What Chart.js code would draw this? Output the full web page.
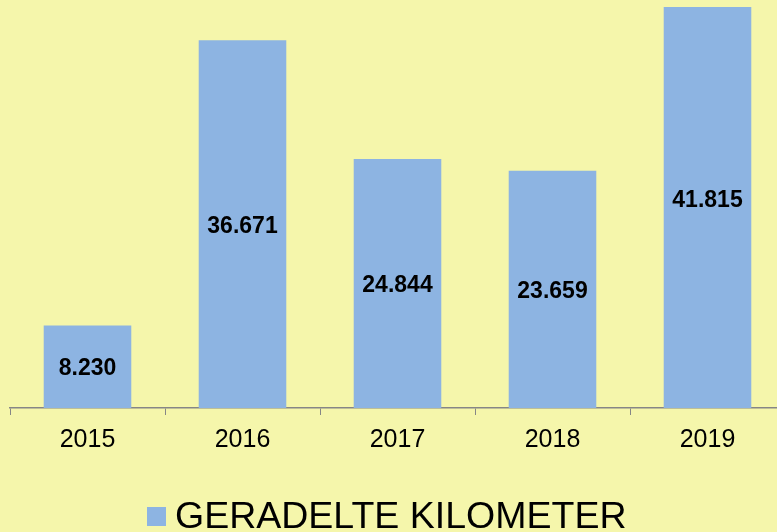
<!DOCTYPE html>
<html lang="de">
<head>
<meta charset="UTF-8">
<title>Geradelte Kilometer</title>
<script src="https://cdn.jsdelivr.net/npm/chart.js"></script>
<style>
  html, body { margin: 0; padding: 0; overflow: hidden; background: #F5F6AB; }
  .wrap { width: 785px; height: 532px; position: relative; }
</style>
</head>
<body>
<div class="wrap"><canvas id="kmChart"></canvas></div>
<script>
  const years = ["2015", "2016", "2017", "2018", "2019"];
  const kilometers = [8230, 36671, 24844, 23659, 41815];
  const seriesName = "GERADELTE KILOMETER";

  const fontFamily = "'Liberation Sans', Arial, sans-serif";

  // zahlen mitten in die balken schreiben (deutsches format mit punkt)
  const barLabels = {
    id: "barLabels",
    afterDatasetsDraw(chart) {
      const ctx = chart.ctx;
      const meta = chart.getDatasetMeta(0);
      ctx.save();
      ctx.font = "bold 23px " + fontFamily;
      ctx.fillStyle = "#000";
      ctx.textAlign = "center";
      ctx.textBaseline = "middle";
      meta.data.forEach((bar, i) => {
        const txt = kilometers[i].toLocaleString("de-DE");
        ctx.fillText(txt, bar.x, (bar.y + bar.base) / 2 + 2);
      });
      ctx.restore();
    }
  };

  // eigene legende unten, kleiner abstand zwischen kaestchen und text
  const bottomLegend = {
    id: "bottomLegend",
    afterDraw(chart) {
      const ctx = chart.ctx;
      const ds = chart.data.datasets[0];
      ctx.save();
      ctx.fillStyle = ds.backgroundColor;
      ctx.fillRect(147, 507, 19, 19);
      ctx.font = "37.5px " + fontFamily;
      ctx.fillStyle = "#000";
      ctx.textAlign = "left";
      ctx.textBaseline = "alphabetic";
      ctx.fillText(ds.label, 175, 528);
      ctx.restore();
    }
  };

  new Chart(document.getElementById("kmChart"), {
    type: "bar",
    data: {
      labels: years,
      datasets: [{
        label: seriesName,
        data: kilometers,
        backgroundColor: "#8DB4E2",
        categoryPercentage: 1,
        barPercentage: 0.565,
        clip: 0
      }]
    },
    options: {
      responsive: true,
      maintainAspectRatio: false,
      animation: false,
      layout: { padding: { left: 10, right: 0, top: 7, bottom: 67 } },
      scales: {
        x: {
          grid: {
            drawOnChartArea: false,
            drawTicks: true,
            tickLength: 7,
            color: "#868686",
            offset: true
          },
          border: { display: true, color: "#868686", width: 1.5 },
          ticks: {
            color: "#000",
            font: { family: fontFamily, size: 25 },
            padding: 10
          }
        },
        y: {
          display: false,
          min: 0,
          max: 40000
        }
      },
      plugins: {
        legend: { display: false },
        tooltip: { enabled: false }
      }
    },
    plugins: [barLabels, bottomLegend]
  });
</script>
</body>
</html>
